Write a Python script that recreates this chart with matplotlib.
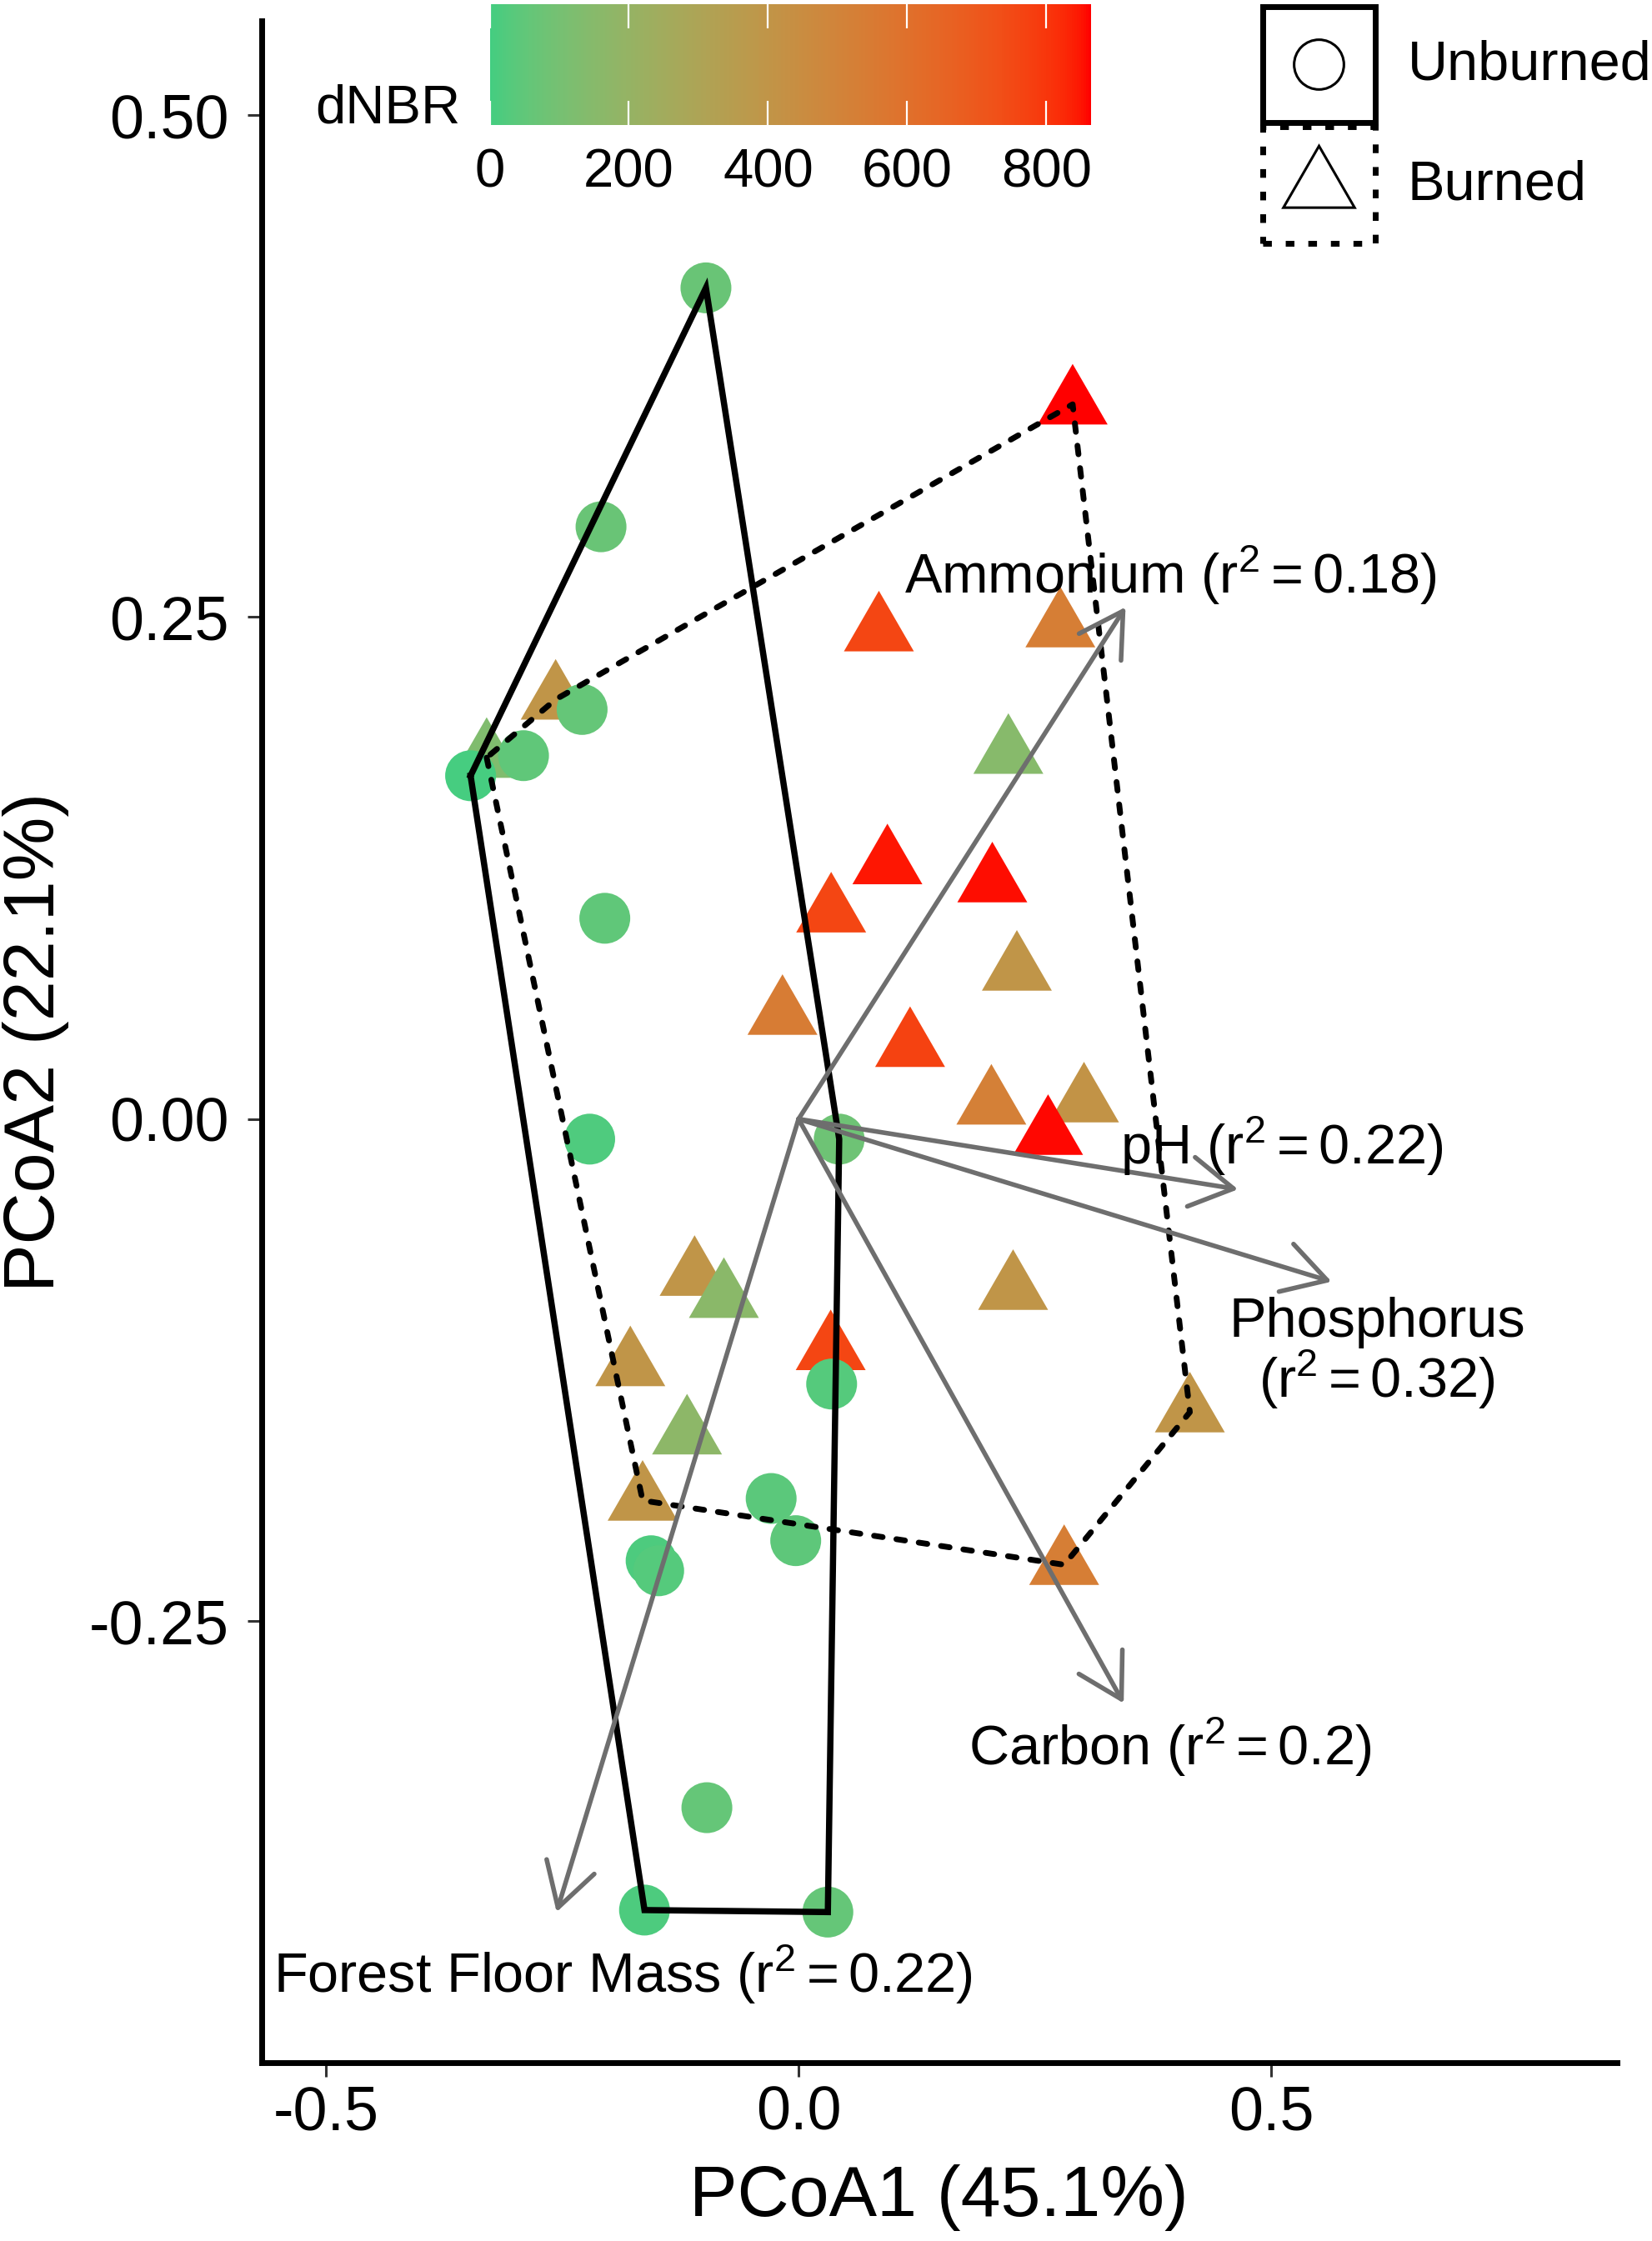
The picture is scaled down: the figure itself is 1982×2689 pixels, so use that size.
import numpy as np
import matplotlib
matplotlib.use("Agg")
import matplotlib.pyplot as plt
from matplotlib.colors import ListedColormap, Normalize
from matplotlib.patches import Rectangle
from matplotlib.lines import Line2D

plt.rcParams["font.family"] = "Liberation Sans"
plt.rcParams["axes.unicode_minus"] = False
plt.rcParams["mathtext.fontset"] = "custom"
plt.rcParams["mathtext.rm"] = "Liberation Sans"
plt.rcParams["mathtext.it"] = "Liberation Sans:italic"

# unburned plots (circles)
UB_X = [-0.098, -0.209, -0.229, -0.291, -0.347, -0.205, -0.221, 0.043,
        0.035, -0.029, -0.003, -0.156, -0.148, -0.097, -0.163, 0.031]
UB_Y = [0.414, 0.295, 0.204, 0.181, 0.171, 0.100, -0.010, -0.010,
        -0.132, -0.189, -0.210, -0.220, -0.225, -0.343, -0.394, -0.395]
UB_DNBR = [70, 70, 60, 50, 5, 50, 20, 80, 30, 40, 45, 15, 30, 60, 15, 60]

# burned plots (triangles)
B_X = [0.290, 0.085, 0.277, 0.222, -0.257, -0.330, 0.094, 0.205, 0.0345,
       0.231, -0.017, 0.118, 0.204, 0.302, 0.264, -0.110, -0.079, 0.227,
       -0.178, 0.034, -0.118, 0.414, -0.165, 0.281]
B_Y = [0.356, 0.243, 0.245, 0.182, 0.209, 0.180, 0.127, 0.118, 0.103,
       0.074, 0.052, 0.036, 0.0073, 0.0084, -0.0078, -0.078, -0.089, -0.085,
       -0.123, -0.115, -0.157, -0.146, -0.190, -0.222]
B_DNBR = [864, 760, 530, 150, 400, 130, 850, 855, 760,
          400, 540, 770, 520, 410, 860, 400, 160, 400,
          400, 760, 170, 400, 400, 530]

# fitted environmental vectors
VEC_NAMES = ["Ammonium", "pH", "Phosphorus\n", "Carbon", "Forest Floor Mass"]
VEC_R2 = ["0.18", "0.22", "0.32", "0.2", "0.22"]
VEC_X = [0.346, 0.465, 0.564, 0.344, -0.256]
VEC_Y = [0.255, -0.035, -0.081, -0.291, -0.395]
LABEL_POS = [(0.394, 0.271), (0.511, -0.0135), (0.612, -0.117),
             (0.393, -0.313), (-0.186, -0.426)]

DNBR_MAX = 864
CBAR_TICKS = [0, 200, 400, 600, 800]

W, H = 1983, 2689

_M = np.array([[0.4124564, 0.3575761, 0.1804375],
               [0.2126729, 0.7151522, 0.0721750],
               [0.0193339, 0.1191920, 0.9503041]])
_WP = np.array([0.95047, 1.0, 1.08883])


def to_lab(hexcol):
    c = np.array(matplotlib.colors.to_rgb(hexcol))
    lin = np.where(c <= 0.04045, c / 12.92, ((c + 0.055) / 1.055) ** 2.4)
    xyz = _M @ lin / _WP
    f = np.where(xyz > 0.008856, np.cbrt(xyz), 7.787 * xyz + 16 / 116)
    return np.array([116 * f[1] - 16, 500 * (f[0] - f[1]), 200 * (f[1] - f[2])])


def from_lab(lab):
    fy = (lab[0] + 16) / 116
    f = np.array([fy + lab[1] / 500, fy, fy - lab[2] / 200])
    xyz = np.where(f ** 3 > 0.008856, f ** 3, (f - 16 / 116) / 7.787) * _WP
    lin = np.clip(np.linalg.solve(_M, xyz), 0, 1)
    return np.where(lin <= 0.0031308, 12.92 * lin, 1.055 * lin ** (1 / 2.4) - 0.055)


def hull(xs, ys):
    pts = sorted(zip(xs, ys))

    def cross(o, a, b):
        return (a[0] - o[0]) * (b[1] - o[1]) - (a[1] - o[1]) * (b[0] - o[0])

    lower, upper = [], []
    for p in pts:
        while len(lower) >= 2 and cross(lower[-2], lower[-1], p) <= 0:
            lower.pop()
        lower.append(p)
    for p in reversed(pts):
        while len(upper) >= 2 and cross(upper[-2], upper[-1], p) <= 0:
            upper.pop()
        upper.append(p)
    h = lower[:-1] + upper[:-1]
    return np.array(h + [h[0]])


def fx(px):
    return px / W


def fy(py):
    return 1 - py / H


lo, hi = to_lab("#43CD80"), to_lab("#FF0000")
cmap = ListedColormap([from_lab(lo + t * (hi - lo)) for t in np.linspace(0, 1, 256)])
norm = Normalize(0, DNBR_MAX)

fig = plt.figure(figsize=(W / 100, H / 100), dpi=100)
ax = fig.add_axes([fx(314), fy(2475), fx(1939.5) - fx(314), fy(25) - fy(2475)])

ax.scatter(B_X, B_Y, c=B_DNBR, cmap=cmap, norm=norm, marker=(3, 0, 0),
           s=4870, linewidths=0, zorder=2)
sc = ax.scatter(UB_X, UB_Y, c=UB_DNBR, cmap=cmap, norm=norm, marker="o",
                s=1930, linewidths=0, zorder=2)

hu = hull(UB_X, UB_Y)
ax.plot(hu[:, 0], hu[:, 1], color="black", lw=5.4, solid_joinstyle="miter", zorder=3)
hb = hull(B_X, B_Y)
ax.plot(hb[:, 0], hb[:, 1], color="black", lw=5.0, dashes=(1.5, 2.4),
        dash_capstyle="round", zorder=3)

for name, r2, vx, vy, (lx, ly) in zip(VEC_NAMES, VEC_R2, VEC_X, VEC_Y, LABEL_POS):
    ax.annotate("", xy=(vx, vy), xytext=(0, 0), zorder=4,
                arrowprops=dict(arrowstyle="->,head_length=3.7,head_width=2.15",
                                mutation_scale=10, color="#6E6E6E", lw=4.0,
                                shrinkA=0, shrinkB=0))
    sep = "" if name.endswith("\n") else " "
    ax.text(lx, ly, name + sep + r"($\mathregular{r^2=" + r2 + "}$)",
            fontsize=48, ha="center", va="center", multialignment="center",
            linespacing=1.0, zorder=5)

ax.set_xlim(-0.568, 0.8655)
ax.set_ylim(-0.470, 0.547)
ax.set_xticks([-0.5, 0.0, 0.5], ["-0.5", "0.0", "0.5"])
ax.set_yticks([0.5, 0.25, 0.0, -0.25], ["0.50", "0.25", "0.00", "-0.25"])
ax.tick_params(length=12, width=2.2, color="#333333", labelsize=53)
ax.tick_params(axis="x", pad=7)
ax.tick_params(axis="y", pad=16)
for side in ["top", "right"]:
    ax.spines[side].set_visible(False)
for side in ["left", "bottom"]:
    ax.spines[side].set_linewidth(5)
ax.set_xlabel("PCoA1 (45.1%)", fontsize=62)
ax.set_ylabel("PCoA2 (22.1%)", fontsize=62)
ax.xaxis.set_label_coords(0.5, (2475 - 2637) / 2450)
ax.xaxis.label.set_va("center")
ax.yaxis.set_label_coords((43 - 314) / 1625.5, 0.5)
ax.yaxis.label.set_va("center")
ax.yaxis.label.set_ha("center")

# colour bar for dNBR
cax = fig.add_axes([fx(587.6), fy(150), fx(1308.6) - fx(587.6), fy(5) - fy(150)])
cb = fig.colorbar(sc, cax=cax, orientation="horizontal")
cb.outline.set_visible(False)
cb.set_ticks(CBAR_TICKS)
cax.tick_params(length=0, labelsize=47, pad=20)
cax.vlines(CBAR_TICKS, 0, 0.2, colors="white", lw=1.6)
cax.vlines(CBAR_TICKS, 0.8, 1, colors="white", lw=1.6)
fig.text(fx(552), fy(131), "dNBR", fontsize=47, ha="right", va="center")

# shape / hull legend
fig.add_artist(Rectangle((fx(1515), fy(147)), fx(135), 139 / H, fill=False,
                         lw=5.0, ec="black", transform=fig.transFigure))
fig.add_artist(Rectangle((fx(1515), fy(292)), fx(135), 140 / H, fill=False,
                         lw=5.0, ec="black", ls=(0, (1.5, 2.4)),
                         transform=fig.transFigure))
fig.add_artist(Line2D([fx(1582)], [fy(77)], marker="o", ms=43, mfc="none",
                      mec="black", mew=2.2, transform=fig.transFigure))
fig.add_artist(Line2D([fx(1582)], [fy(224)], marker=(3, 0, 0), ms=71, mfc="none",
                      mec="black", mew=2.2, transform=fig.transFigure))
fig.text(fx(1689), fy(78), "Unburned", fontsize=48, va="center")
fig.text(fx(1689), fy(222), "Burned", fontsize=48, va="center")

fig.savefig("out.png", dpi=100)
